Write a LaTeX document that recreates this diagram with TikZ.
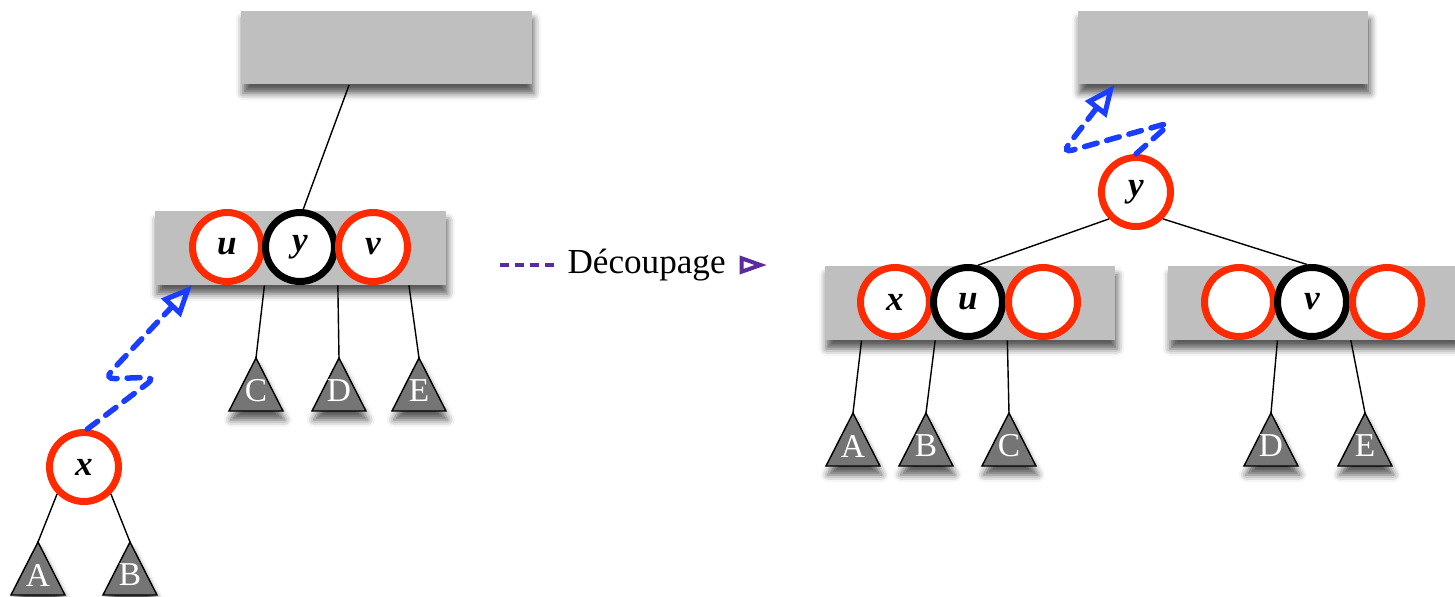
\documentclass[tikz,border=0pt]{standalone}
\usepackage{fontspec}
\setmainfont{Liberation Serif}
\usetikzlibrary{arrows.meta,shadows.blur}

\definecolor{keygray}{HTML}{BFBFBF}
\definecolor{treegray}{HTML}{757575}
\definecolor{keyred}{HTML}{FF2A00}
\definecolor{climbblue}{HTML}{1A3DFF}
\definecolor{splitpurple}{HTML}{5B2A9E}

\begin{document}
\begin{tikzpicture}[x=0.02cm, y=-0.02cm,
    nodebox/.style={fill=keygray, minimum width=5.82cm, minimum height=1.48cm, inner sep=0pt,
        blur shadow={shadow xshift=1pt, shadow yshift=-5pt, shadow blur radius=4pt, shadow opacity=65}},
    key/.style={circle, draw=keyred, line width=0.14cm, fill=white, minimum size=1.38cm, inner sep=0pt,
        font=\fontsize{20}{24}\selectfont\bfseries\itshape},
    blackkey/.style={key, draw=black},
    edge/.style={line width=0.8pt},
    subtree/.style={draw=black, line width=0.8pt, fill=treegray,
        blur shadow={shadow xshift=1pt, shadow yshift=-5pt, shadow blur radius=4pt, shadow opacity=65}},
    treelab/.style={text=white, inner sep=0pt, font=\fontsize{19}{20}\selectfont},
    climb/.style={draw=climbblue, line width=0.11cm, dash pattern=on 0.26cm off 0.2cm, line cap=round,
        rounded corners=6pt, -{Triangle[open, length=0.62cm, width=0.52cm, line width=0.1cm]}},
    split/.style={draw=splitpurple, line width=0.08cm, dash pattern=on 0.18cm off 0.12cm,
        -{Triangle[open, length=0.55cm, width=0.36cm, line width=0.08cm]}}
]
\useasboundingbox (0,0) rectangle (1455,596);

% Before: x climbs into the full node u y v
\node[nodebox] (topL) at (386.5,47.5) {};
\node[nodebox] (midL) at (300.5,248) {};
\node[key] (uL) at (227,247) {u};
\node[blackkey] (yL) at (300,247) {y};
\node[key] (vL) at (373,247) {v};
\node[key] (xL) at (84,467) {x};

% Subtrees
\foreach \name/\px/\py/\lab in {tA/38/542/A, tB/130/542/B, tC/256/358/C, tD/339/358/D, tE/419/358/E,
        rA/853/413/A, rB/926/413/B, rC/1009/413/C, rD/1271/413/D, rE/1365/413/E} {
    \coordinate (\name) at (\px,\py);
    \draw[subtree] (\name) -- ++(27,53) -- ++(-54,0) -- cycle;
    \node[treelab] (\name-lab) at (\px,\py+33) {\lab};
}

\draw[edge] (topL.-135) -- (yL.85);
\draw[edge] (xL.-135) -- (tA);
\draw[edge] (xL.-45) -- (tB);
\draw[edge] (midL.-134) -- (tC);
\draw[edge] (midL.-45) -- (tD);
\draw[edge] (midL.-19) -- (tE);

\draw[climb] (xL.85) -- (156,377) -- (104,379) -- (midL.-161);

% Split arrow
\coordinate (splitA) at (500,265);
\coordinate (splitB) at (767,265);
\draw[split] (splitA) -- node[pos=0.549, fill=white, inner xsep=0.26cm, inner ysep=2pt,
    font=\fontsize{20}{24}\selectfont] (splitlab) {Découpage} (splitB);

% After: y goes up, u and v become two nodes
\node[nodebox] (topR) at (1223,47.5) {};
\node[nodebox] (midRL) at (970,303) {};
\node[nodebox] (midRR) at (1313.5,303) {};
\node[key] (yR) at (1136,192) {y};
\node[key] (xR) at (895,302) {x};
\node[blackkey] (uR) at (968,302) {u};
\node[key] (eR1) at (1043,302) {};
\node[key] (eR2) at (1239,302) {};
\node[blackkey] (vR) at (1312,302) {v};
\node[key] (eR3) at (1387,302) {};

\draw[edge] (yR.-135) -- (uR.75);
\draw[edge] (yR.-45) -- (vR.98);
\draw[edge] (midRL.-161) -- (rA);
\draw[edge] (midRL.-133) -- (rB);
\draw[edge] (midRL.-45) -- (rC);
\draw[edge] (midRR.-134) -- (rD);
\draw[edge] (midRR.-45) -- (rE);

\draw[climb] (yR.north) -- (1172,122) -- (1062,153) -- (topR.-161);
\end{tikzpicture}
\end{document}
